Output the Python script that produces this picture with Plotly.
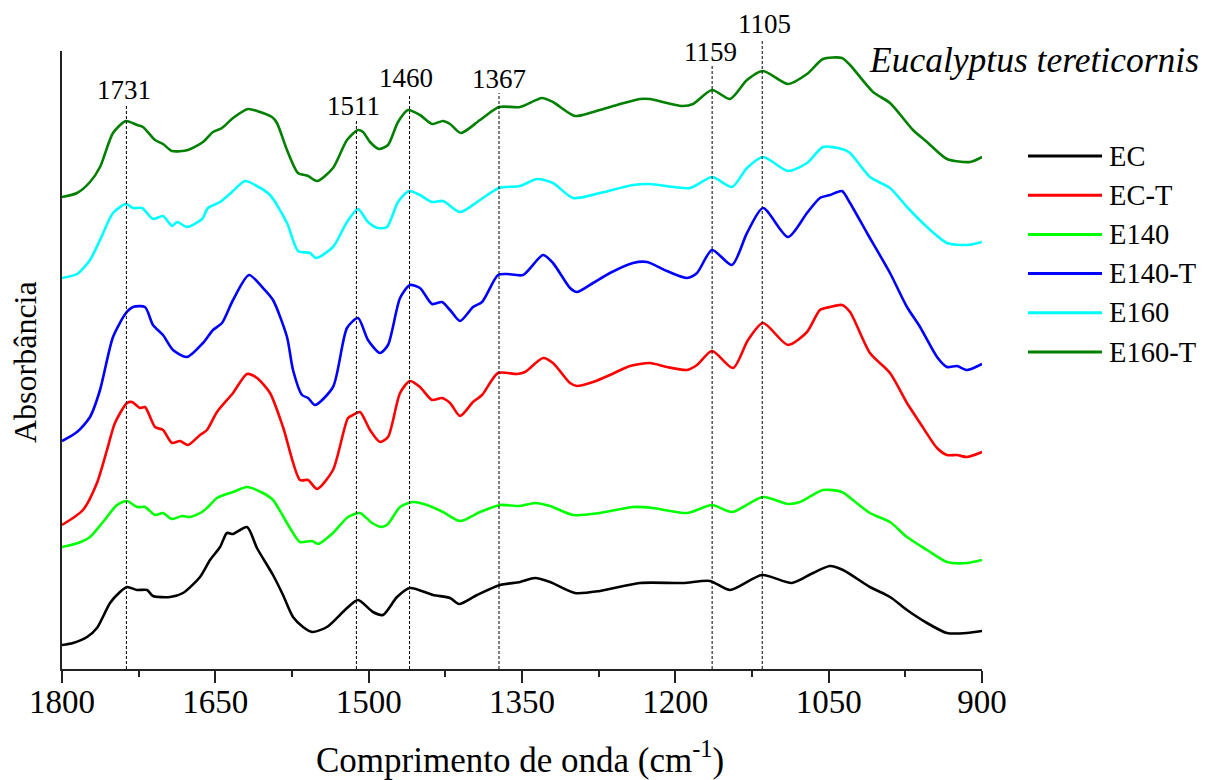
import plotly.graph_objects as go

# ---------------- data (wavenumber cm-1, absorbance a.u.) ----------------
series_names = ["EC", "EC-T", "E140", "E140-T", "E160", "E160-T"]
series_colors = ["#000000", "#ff0000", "#00ff00", "#0000ff", "#00ffff", "#008000"]

EC_wn = [1800, 1789.2, 1775.5, 1765.8, 1753.0, 1743.3, 1736.4, 1726.6, 1716.8, 1711.0, 1694.3, 1681.6,
         1665.0, 1655.2, 1645.4, 1638.6, 1632.7, 1619.0, 1609.3, 1593.6, 1583.8, 1574.0, 1564.2, 1555.4,
         1540.8, 1521.2, 1510.4, 1495.8, 1486.0, 1472.3, 1459.6, 1437.0, 1420.4, 1411.6, 1394.0, 1371.5,
         1351.9, 1337.3, 1322.6, 1298.2, 1273.7, 1234.6, 1192.5, 1166.1, 1146.5, 1115.2, 1085.9, 1065.3,
         1048.7, 1036.0, 1009.6, 990.0, 973.4, 953.8, 934.3, 914.7, 900.0]
EC_abs = [24, 26, 32, 41, 66, 77, 82, 79, 79, 73, 72, 76,
          92, 109, 122, 136, 135, 142, 121, 94, 74, 52, 42, 37,
          42, 61, 69, 57, 54, 72, 81, 74, 71, 65, 74, 84,
          87, 91, 87, 76, 78, 86, 86, 88, 79, 94, 86, 96,
          103, 99, 82, 72, 59, 46, 36, 36, 38]

ECT_wn = [1800, 1779.5, 1765.8, 1756.0, 1748.2, 1736.4, 1731.5, 1723.7, 1718.8, 1709.0, 1701.2, 1692.4,
          1684.6, 1676.7, 1665.0, 1658.2, 1648.4, 1632.7, 1619.0, 1609.3, 1596.5, 1583.8, 1567.2, 1559.3,
          1550.5, 1534.9, 1520.2, 1515.3, 1508.5, 1498.7, 1488.9, 1481.1, 1469.3, 1459.6, 1449.8, 1438.0,
          1428.3, 1420.4, 1410.6, 1397.9, 1389.1, 1373.5, 1354.9, 1347.1, 1329.4, 1319.7, 1303.0, 1296.2,
          1280.5, 1263.9, 1244.4, 1224.8, 1208.2, 1188.6, 1178.8, 1164.1, 1143.6, 1128.9, 1114.2, 1089.8,
          1071.2, 1058.5, 1048.7, 1037.0, 1029.1, 1009.6, 990.0, 973.4, 960.6, 944.0, 934.3, 924.5,
          914.7, 900.0]
ECT_abs = [144, 159, 186, 219, 246, 266, 267, 261, 262, 242, 239, 226,
           228, 224, 234, 239, 257, 276, 295, 291, 276, 242, 189, 189,
           180, 199, 251, 254, 257, 239, 227, 232, 276, 288, 282, 269,
           271, 266, 253, 267, 274, 296, 295, 297, 311, 306, 286, 283,
           287, 294, 303, 306, 302, 299, 304, 318, 301, 329, 346, 324,
           337, 359, 362, 364, 357, 316, 296, 266, 246, 221, 214, 214,
           212, 217]

E140_wn = [1800, 1784.3, 1772.6, 1759.9, 1746.2, 1736.4, 1726.6, 1718.8, 1709.0, 1701.2, 1692.4, 1682.6,
           1674.8, 1663.0, 1657.2, 1648.4, 1632.7, 1619.0, 1603.4, 1593.6, 1577.0, 1567.2, 1555.4, 1549.5,
           1534.9, 1520.2, 1508.5, 1496.7, 1487.0, 1481.1, 1469.3, 1456.6, 1442.9, 1427.3, 1410.6, 1391.1,
           1371.5, 1351.9, 1337.3, 1322.6, 1300.1, 1273.7, 1241.4, 1221.9, 1188.6, 1164.1, 1144.6, 1114.2,
           1089.8, 1078.0, 1055.5, 1037.0, 1026.2, 1009.6, 990.0, 973.4, 953.8, 934.3, 914.7, 900.0]
E140_abs = [122, 126, 132, 147, 164, 168, 162, 162, 154, 156, 150, 153,
            152, 157, 162, 171, 177, 182, 176, 169, 141, 127, 128, 125,
            136, 152, 156, 146, 142, 145, 162, 167, 164, 157, 148, 157,
            164, 163, 166, 163, 154, 156, 162, 161, 156, 164, 157, 172,
            165, 167, 179, 177, 169, 156, 147, 132, 119, 107, 106, 109]

E140T_wn = [1800, 1785.3, 1772.6, 1762.8, 1750.1, 1737.4, 1730.5, 1718.8, 1711.0, 1701.2, 1691.4, 1677.7,
            1662.1, 1652.3, 1643.5, 1632.7, 1617.1, 1603.4, 1593.6, 1579.9, 1574.0, 1565.2, 1559.3, 1552.5,
            1534.9, 1521.2, 1510.4, 1500.7, 1488.9, 1481.1, 1469.3, 1459.6, 1449.8, 1438.0, 1428.3, 1420.4,
            1410.6, 1397.9, 1389.1, 1373.5, 1364.7, 1349.0, 1329.4, 1319.7, 1303.0, 1296.2, 1280.5, 1263.9,
            1241.4, 1227.7, 1208.2, 1188.6, 1178.8, 1164.1, 1144.6, 1129.9, 1114.2, 1089.8, 1071.2, 1058.5,
            1048.7, 1037.0, 1029.1, 1012.5, 990.0, 973.4, 960.6, 944.0, 934.3, 924.5, 914.7, 900.0]
E140T_abs = [228, 237, 252, 279, 332, 356, 362, 362, 344, 334, 319, 312,
             326, 339, 346, 369, 394, 381, 369, 332, 299, 274, 271, 264,
             282, 341, 351, 329, 316, 324, 371, 384, 381, 365, 367, 359,
             348, 362, 367, 394, 395, 394, 414, 406, 381, 377, 386, 396,
             406, 407, 398, 391, 396, 419, 404, 436, 461, 432, 456, 471,
             474, 478, 466, 436, 396, 362, 342, 312, 302, 303, 299, 305]

E160_wn = [1800, 1785.3, 1772.6, 1762.8, 1750.1, 1737.4, 1730.5, 1721.7, 1711.0, 1701.2, 1692.4, 1687.5,
           1677.7, 1663.0, 1657.2, 1645.4, 1632.7, 1621.0, 1609.3, 1596.5, 1579.9, 1569.1, 1557.4, 1551.5,
           1534.9, 1521.2, 1510.4, 1500.7, 1490.9, 1482.1, 1471.3, 1460.5, 1449.8, 1438.0, 1427.3, 1410.6,
           1391.1, 1372.5, 1351.9, 1335.3, 1319.7, 1300.1, 1273.7, 1241.4, 1224.8, 1185.6, 1164.1, 1144.6,
           1129.9, 1114.2, 1089.8, 1071.2, 1055.5, 1037.0, 1029.1, 1009.6, 990.0, 973.4, 953.8, 934.3,
           914.7, 900.0]
E160_abs = [391, 395, 409, 429, 456, 465, 461, 461, 450, 453, 443, 447,
            442, 450, 461, 467, 478, 488, 483, 474, 446, 418, 416, 411,
            422, 447, 460, 447, 441, 442, 467, 478, 474, 467, 468, 457,
            469, 481, 483, 490, 486, 471, 476, 484, 485, 481, 492, 482,
            501, 512, 498, 506, 522, 520, 516, 492, 481, 462, 442, 426,
            424, 427]

E160T_wn = [1800, 1785.3, 1772.6, 1762.8, 1750.1, 1737.4, 1726.6, 1720.8, 1709.0, 1701.2, 1692.4, 1676.7,
            1662.1, 1652.3, 1643.5, 1632.7, 1618.0, 1609.3, 1594.6, 1589.7, 1579.9, 1569.1, 1559.3, 1550.5,
            1534.9, 1521.2, 1510.4, 1505.5, 1498.7, 1489.9, 1481.1, 1471.3, 1461.5, 1449.8, 1438.0, 1427.3,
            1420.4, 1409.7, 1391.1, 1372.5, 1351.9, 1330.4, 1319.7, 1298.2, 1280.5, 1257.1, 1234.6, 1224.8,
            1208.2, 1192.5, 1182.7, 1164.1, 1146.5, 1129.9, 1114.2, 1089.8, 1071.2, 1055.5, 1037.0, 1029.1,
            1006.6, 990.0, 967.5, 953.8, 934.3, 911.7, 900.0]
E160T_abs = [472, 476, 487, 502, 536, 548, 544, 542, 529, 525, 518, 519,
             527, 537, 541, 551, 560, 558, 552, 546, 519, 496, 493, 488,
             501, 529, 539, 537, 527, 520, 524, 547, 559, 554, 545, 548,
             545, 536, 549, 562, 562, 571, 567, 553, 557, 564, 570, 570,
             566, 563, 565, 579, 570, 589, 598, 585, 595, 610, 611, 604,
             577, 566, 539, 527, 510, 507, 512]

series_wn = [EC_wn, ECT_wn, E140_wn, E140T_wn, E160_wn, E160T_wn]
series_abs = [EC_abs, ECT_abs, E140_abs, E140T_abs, E160_abs, E160T_abs]

x_ticks = [1800, 1650, 1500, 1350, 1200, 1050, 900]
x_minor_ticks = [1725, 1575, 1425, 1275, 1125, 975]
peak_labels = ["1731", "1511", "1460", "1367", "1159", "1105"]
peak_line_wn = [1737, 1512, 1460, 1372.5, 1164, 1115]

# ---------------- layout geometry (page body adds an 8px offset) ----------------
OFF = 8
W, H = 1214 - OFF, 780 - OFF
PLOT_L, PLOT_T, PW, PH = 62, 51, 920, 618        # screen pixels of plot area
ML, MT = PLOT_L - OFF, PLOT_T - OFF
MR = W - ML - PW
MB = H - MT - PH
X_LO, X_HI = 1800, 900

def px_x(px):
    return (px - PLOT_L) / PW

def px_y(py):
    return (PLOT_T + PH - py) / PH

def wn_paper(w):
    return (X_LO - w) / (X_LO - X_HI)

FONT = "Liberation Serif, Times New Roman, serif"

fig = go.Figure()
for name, color, wn, ab in zip(series_names, series_colors, series_wn, series_abs):
    fig.add_trace(go.Scatter(x=wn, y=ab, mode="lines", name=name,
                             line=dict(color=color, width=2.6, shape="spline", smoothing=0.7),
                             showlegend=False))

shapes = []
annotations = []
# dashed marker lines and peak labels
line_tops = [105, 119, 94, 93, 66, 41]
label_ys = [90, 106, 78, 79, 52, 24]
label_dx = [-2, -3, -4, 0, -2, 2]
for lab, w, top, ly, dx in zip(peak_labels, peak_line_wn, line_tops, label_ys, label_dx):
    xp = wn_paper(w)
    shapes.append(dict(type="line", xref="paper", yref="paper", x0=xp, x1=xp,
                       y0=0, y1=px_y(top), line=dict(color="black", width=1, dash="3px,2px")))
    annotations.append(dict(text=lab, xref="paper", yref="paper", x=xp + dx / PW, y=px_y(ly),
                            xanchor="center", yanchor="middle", showarrow=False,
                            font=dict(family=FONT, size=27, color="black")))

# manual legend (long line samples as in the original)
for i, (name, color) in enumerate(zip(series_names, series_colors)):
    py = 156 + i * 39.2
    shapes.append(dict(type="line", xref="paper", yref="paper", x0=px_x(1028), x1=px_x(1102),
                       y0=px_y(py), y1=px_y(py), line=dict(color=color, width=3)))
    annotations.append(dict(text=name, xref="paper", yref="paper", x=px_x(1107), y=px_y(py),
                            xanchor="left", yanchor="middle", showarrow=False,
                            font=dict(family=FONT, size=28.5, color="black")))

annotations.append(dict(text="<i>Eucalyptus tereticornis</i>", xref="paper", yref="paper",
                        x=px_x(1201), y=px_y(60), xanchor="right", yanchor="middle", showarrow=False,
                        font=dict(family=FONT, size=35.5, color="black")))
annotations.append(dict(text="Comprimento de onda (cm<sup>-1</sup>)", xref="paper", yref="paper",
                        x=px_x(520), y=px_y(757), xanchor="center", yanchor="middle", showarrow=False,
                        font=dict(family=FONT, size=35, color="black")))
annotations.append(dict(text="Absorbância", xref="paper", yref="paper", textangle=-90,
                        x=px_x(25), y=px_y(362), xanchor="center", yanchor="middle", showarrow=False,
                        font=dict(family=FONT, size=32, color="black")))

fig.update_layout(
    width=W, height=H,
    margin=dict(l=ML, r=MR, t=MT, b=MB, autoexpand=False),
    paper_bgcolor="white", plot_bgcolor="white",
    shapes=shapes, annotations=annotations,
    xaxis=dict(range=[X_LO, X_HI], tickvals=x_ticks, ticktext=[str(t) for t in x_ticks],
               showgrid=False, zeroline=False, showline=True, linecolor="#222", linewidth=2,
               ticks="outside", ticklen=12, tickwidth=2, tickcolor="#222", ticklabelstandoff=-10,
               minor=dict(tickvals=x_minor_ticks, ticks="outside", ticklen=6,
                          tickwidth=2, tickcolor="#222", showgrid=False),
               tickfont=dict(family=FONT, size=33, color="black")),
    yaxis=dict(range=[0, PH], showgrid=False, zeroline=False, showline=True, linecolor="#222",
               linewidth=2, ticks="", showticklabels=False),
)

fig.write_html("out.html")
